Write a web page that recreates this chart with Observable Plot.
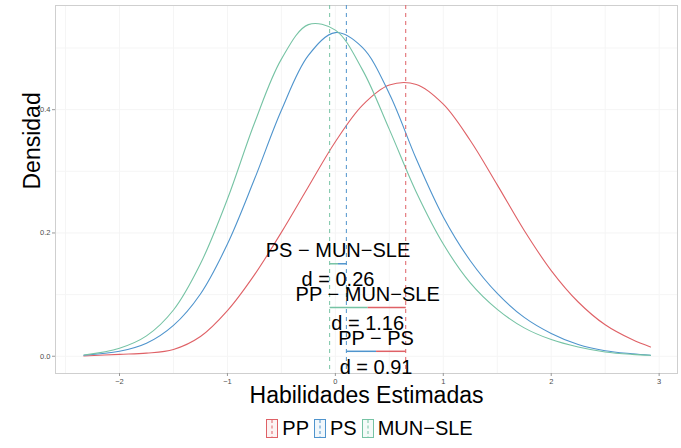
<!DOCTYPE html>
<html>
<head>
<meta charset="utf-8">
<script src="https://cdn.jsdelivr.net/npm/d3@7"></script>
<script src="https://cdn.jsdelivr.net/npm/@observablehq/plot@0.6"></script>
<style>
  html, body { margin: 0; padding: 0; background: #fff; }
  body { width: 681px; height: 448px; overflow: hidden; font-family: "Liberation Sans", Arial, Helvetica, sans-serif; }
  #legend { display: flex; justify-content: center; align-items: center; margin-left: 62px; margin-right: 4px; height: 40px; font-size: 20px; color: #000; }
  #legend .item { display: flex; align-items: center; margin: 0 2.5px; }
  #legend svg { margin-right: 4px; }
</style>
</head>
<body>
<div id="chart"></div>
<div id="legend"></div>
<script>
// ---- data ----
const groups = ["PP", "PS", "MUN−SLE"];
const colors = ["#df6166", "#4f94cd", "#76c3a4"];
const xs = [-2.33, -2, -1.75, -1.5, -1.25, -1, -0.75, -0.5, -0.25, 0, 0.25, 0.5, 0.75, 1, 1.25, 1.5, 1.75, 2, 2.25, 2.5, 2.75, 2.92];
const densPP  = [0.0005, 0.003, 0.005, 0.011, 0.032, 0.074, 0.132, 0.201, 0.275, 0.348, 0.407, 0.440, 0.441, 0.409, 0.350, 0.278, 0.204, 0.139, 0.088, 0.051, 0.027, 0.015];
const densPS  = [0.0015, 0.008, 0.021, 0.050, 0.101, 0.182, 0.287, 0.399, 0.488, 0.525, 0.501, 0.426, 0.320, 0.226, 0.155, 0.102, 0.063, 0.037, 0.019, 0.009, 0.004, 0.0015];
const densMUN = [0.002, 0.013, 0.033, 0.075, 0.150, 0.255, 0.378, 0.482, 0.538, 0.529, 0.465, 0.368, 0.266, 0.182, 0.119, 0.076, 0.046, 0.027, 0.015, 0.007, 0.003, 0.0015];
const means = [0.652, 0.102, -0.053];
// comparisons: [higher group index, lower group index]
const compLabels = ["PS − MUN−SLE", "PP − MUN−SLE", "PP − PS"];
const compD = ["d = 0.26", "d = 1.16", "d = 0.91"];
const compHi = [1, 0, 0];
const compLo = [2, 2, 1];
const compY = [0.150, 0.079, 0.008];
const xTicks = [-2, -1, 0, 1, 2, 3];
const yTicks = [0, 0.2, 0.4];
const xGrid = [-2.5, -2, -1.5, -1, -0.5, 0, 0.5, 1, 1.5, 2, 2.5, 3];
const yGrid = [0, 0.1, 0.2, 0.3, 0.4, 0.5];

// ---- build tables ----
const series = [densPP, densPS, densMUN];
const curves = [];
series.forEach((arr, gi) => arr.forEach((v, i) => curves.push({group: groups[gi], x: xs[i], y: v})));
const meanRows = groups.map((g, i) => ({group: g, x: means[i]}));
const segs = [];
const labs = [];
compLabels.forEach((lab, i) => {
  const lo = means[compLo[i]], hi = means[compHi[i]], mid = (lo + hi) / 2;
  segs.push({x1: lo, x2: mid, y: compY[i], group: groups[compLo[i]]});
  segs.push({x1: mid, x2: hi, y: compY[i], group: groups[compHi[i]]});
  labs.push({x: mid, y: compY[i], text: lab, dy: -13});
  labs.push({x: mid, y: compY[i], text: compD[i], dy: 16});
});

const chart = Plot.plot({
  width: 681,
  height: 408,
  marginTop: 5,
  marginBottom: 35,
  marginLeft: 55,
  marginRight: 4,
  style: {fontFamily: "'Liberation Sans', Arial, Helvetica, sans-serif", fontSize: "7.5px", color: "#4d4d4d", background: "#fff"},
  x: {domain: [-2.593, 3.17], label: null},
  y: {domain: [-0.028, 0.569], label: null},
  color: {domain: groups, range: colors},
  marks: [
    Plot.gridX(xGrid, {stroke: "#f5f5f5", strokeOpacity: 1}),
    Plot.gridY(yGrid, {stroke: "#f5f5f5", strokeOpacity: 1}),
    Plot.frame({stroke: "#cfcfcf"}),
    Plot.axisX(xTicks, {tickSize: 3, tickPadding: 2, stroke: "#999", fill: "#4d4d4d", fontSize: 7.5, label: null}),
    Plot.axisY(yTicks, {tickSize: 3, tickPadding: 2, stroke: "#999", fill: "#4d4d4d", fontSize: 7.5, tickFormat: d3.format(".1f"), label: null}),
    Plot.line(curves, {x: "x", y: "y", z: "group", stroke: "group", strokeWidth: 1.1, curve: "catmull-rom"}),
    Plot.ruleX(meanRows, {x: "x", stroke: "group", strokeDasharray: "4,4", strokeWidth: 1}),
    Plot.link(segs, {x1: "x1", x2: "x2", y1: "y", y2: "y", stroke: "group", strokeWidth: 1.5}),
    ...labs.map(l => Plot.text([l], {x: "x", y: "y", text: "text", dy: l.dy, fontSize: 20, fill: "#000"})),
    Plot.text(["Habilidades Estimadas"], {text: d => d, frameAnchor: "bottom", lineAnchor: "middle", dy: 22, fontSize: 23, fill: "#000"}),
    Plot.text(["Densidad"], {text: d => d, frameAnchor: "left", dx: -23, rotate: -90, fontSize: 23, fill: "#000"})
  ]
});
document.getElementById("chart").appendChild(chart);

// ---- legend ----
const legend = document.getElementById("legend");
groups.forEach((g, i) => {
  const item = document.createElement("div");
  item.className = "item";
  item.innerHTML = `<svg width="12" height="19" viewBox="0 0 12 19">
      <rect x="0.5" y="0.5" width="11" height="18" fill="${colors[i]}" fill-opacity="0.08" stroke="${colors[i]}" stroke-width="1"/>
      <line x1="6" x2="6" y1="1" y2="18" stroke="${colors[i]}" stroke-dasharray="3,2.5" stroke-width="1"/>
    </svg><span>${g}</span>`;
  legend.appendChild(item);
});
</script>
</body>
</html>
